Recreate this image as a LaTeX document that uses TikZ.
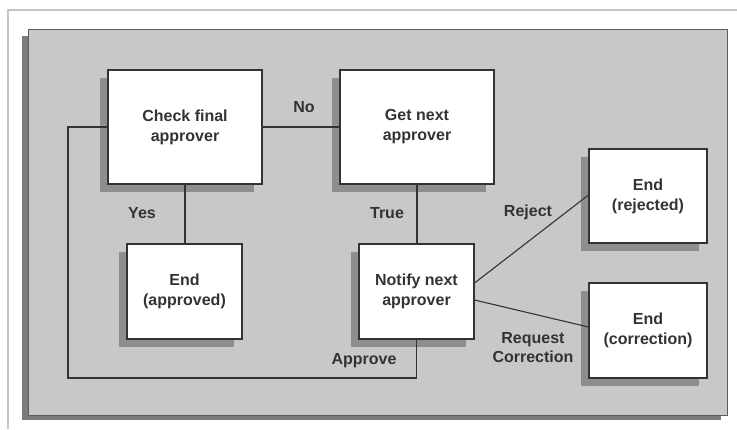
\documentclass[tikz,border=0pt]{standalone}
\usepackage{fontspec}
\setmainfont{Liberation Sans}
\usetikzlibrary{shadows}
\definecolor{panel}{HTML}{C8C8C8}
\definecolor{panelshadow}{HTML}{7C7C7C}
\definecolor{boxshadow}{HTML}{8E8E8E}
\definecolor{frame}{HTML}{C4C4C4}
\definecolor{ink}{HTML}{333333}
\begin{document}
\begin{tikzpicture}[x=1pt,y=-1pt,
  stepbox/.style={draw=ink, line width=1.1pt, fill=white, inner sep=0pt, align=center,
    font=\fontsize{16}{20}\selectfont\bfseries, text=ink,
    drop shadow={shadow xshift=-8pt, shadow yshift=-8pt, fill=boxshadow, opacity=1}},
  lbl/.style={font=\fontsize{16}{19}\selectfont\bfseries, text=ink, align=center, inner sep=0pt},
  conn/.style={draw=ink, line width=1.1pt}]
\useasboundingbox (0,0) rectangle (737,429);
\fill[white] (0,0) rectangle (737,429);
% outer frame
\draw[frame, line width=2pt] (8,429) -- (8,10) -- (737,10);
% panel
\fill[panelshadow] (22,36) rectangle (721,420);
\draw[draw=ink!80, fill=panel, line width=1pt] (28,29) rectangle (727,415);
% boxes
\node[stepbox, minimum width=154pt, minimum height=114pt] (check) at (185,127) {Check final\\approver};
\node[stepbox, minimum width=154pt, minimum height=114pt] (getnext) at (417,127) {Get next\\approver};
\node[stepbox, minimum width=115pt, minimum height=95pt] (appr) at (184.5,291.5) {End\\(approved)};
\node[stepbox, minimum width=115pt, minimum height=95pt] (notify) at (416.5,291.5) {Notify next\\approver};
\node[stepbox, minimum width=118pt, minimum height=94pt] (rej) at (648,196) {End\\(rejected)};
\node[stepbox, minimum width=118pt, minimum height=95pt] (corr) at (648,330.5) {End\\(correction)};
% connectors
\coordinate (loopc) at (68,378);
\draw[conn] (check.east) -- (getnext.west);
\draw[conn] (check.south) -- (check.south |- appr.north);
\draw[conn] (getnext.south) -- (getnext.south |- notify.north);
\draw[conn] (notify.south) |- (loopc) |- (check.west);
\draw[conn] ([yshift=8.5pt]notify.east) -- ([yshift=1pt]rej.west);
\draw[conn] ([yshift=-8.5pt]notify.east) -- ([yshift=3.5pt]corr.west);
% labels
\node[lbl] (lno) at (304,107) {No};
\node[lbl] (lyes) at (142,213) {Yes};
\node[lbl] (ltrue) at (387,213) {True};
\node[lbl] (lrej) at (528,212) {Reject};
\node[lbl] (lapp) at (364,361) {Approve};
\node[lbl] (lreq) at (533,348) {Request\\Correction};
\end{tikzpicture}
\end{document}
